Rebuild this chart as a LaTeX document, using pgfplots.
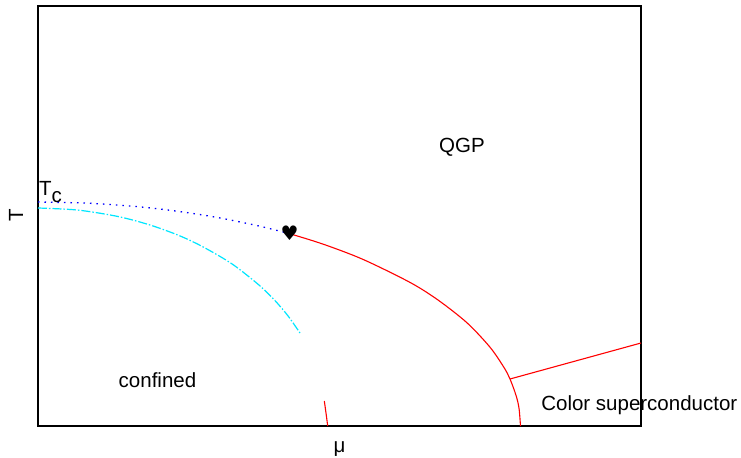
\documentclass[border=0pt]{standalone}
\usepackage{pgfplots}
\pgfplotsset{compat=1.18}
\usepackage{fontspec}
\setmainfont{Liberation Sans}
\newfontfamily\symfont{DejaVu Sans}
\definecolor{cyanline}{RGB}{0,230,255}
\begin{document}
\fontsize{20.5bp}{24bp}\selectfont
\begin{tikzpicture}
\useasboundingbox (0,0) rectangle (741bp,458bp);
\begin{axis}[at={(38bp,32bp)}, anchor=south west, scale only axis,
  width=603bp, height=420bp, xmin=0, xmax=603, ymin=0, ymax=420,
  xtick=\empty, ytick=\empty, axis line style={line width=2bp}, clip=false,
  xlabel={μ}, ylabel={T},
  xlabel style={at={(axis description cs:0.5,-0.055)}, anchor=center},
  ylabel style={at={(axis description cs:-0.0365,0.502)}, anchor=center}]
% crossover (dotted)
\addplot[blue, line width=1.3bp, dash pattern=on 1.5bp off 5bp, smooth] coordinates {
(0,224) (50,222.8) (100,219.3) (142,214.4) (180,208.4) (220,200.2) (251,192.5)};
% cyan dash-dot
\addplot[cyanline, line width=1.2bp, dash pattern=on 9bp off 2bp on 1.5bp off 2bp, smooth] coordinates {
(0,218) (40,215.9) (80,209.5) (112,201) (140,190.9) (162,180.7) (185,167.8) (200,157.8) (222,140.1) (237,125.4) (250,110.1) (262,93)};
% first order line
\addplot[red, line width=1.1bp, smooth] coordinates {
(251,192.5) (285,181.9) (325,166.6) (372,143.6) (400,126.0) (429,103.2) (452,78.8) (466,58.5) (472,47) (478,30.7) (481,17.8) (482.5,0)};
\addplot[red, line width=1.1bp] coordinates {(472,47) (603,83)};
\addplot[red, line width=1.1bp, smooth] coordinates {(286.3,25) (288,13) (289.7,0)};
% critical point
\addplot[only marks, mark=text, text mark={\symfont\fontsize{20bp}{20bp}\selectfont ♥}] coordinates {(251.5,192.3)};
\node[anchor=base] at (axis cs:424,274) {QGP};
\node[anchor=base] at (axis cs:119.5,38.3) {confined};
\node[anchor=base] at (axis cs:601.3,16) {Color superconductor};
\node[anchor=base west, inner sep=0pt] at (axis cs:1,231) {T\raisebox{-7bp}{c}};
\end{axis}
\end{tikzpicture}
\end{document}
